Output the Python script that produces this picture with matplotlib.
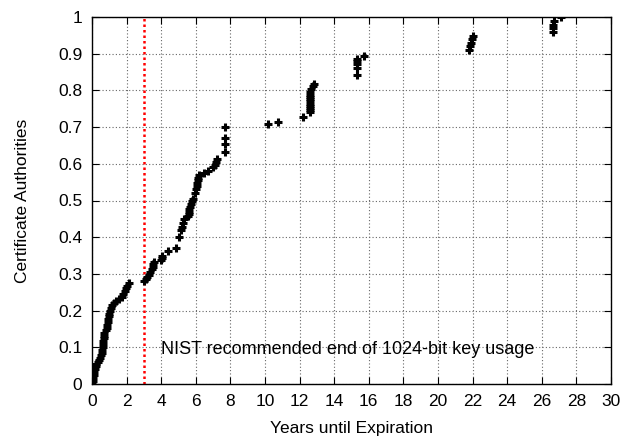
import matplotlib
matplotlib.use("Agg")
import matplotlib.pyplot as plt
import numpy as np

plt.rcParams['font.family'] = ['Liberation Sans', 'DejaVu Sans']

# Years until expiration (x) and cumulative fraction of CAs (y)
years = [
    0.00, 0.03, 0.06, 0.10, 0.14, 0.18, 0.22, 0.26, 0.32, 0.38, 0.45, 0.52, 0.56, 0.60,
    0.62, 0.64, 0.66, 0.68, 0.70, 0.72, 0.80, 0.85, 0.88, 0.90, 0.93, 0.96, 1.00, 1.03,
    1.08, 1.14, 1.25, 1.40, 1.55, 1.72, 1.80, 1.88, 1.95, 2.05, 2.15,
    3.00, 3.10, 3.20, 3.30, 3.38, 3.45, 3.50, 3.55, 3.58, 4.00, 4.03, 4.05, 4.40, 4.85,
    5.05, 5.15, 5.22, 5.28, 5.32, 5.55, 5.58, 5.60, 5.62, 5.65, 5.75, 5.80, 5.85, 5.95,
    6.00, 6.05, 6.08, 6.10, 6.12, 6.20, 6.50, 6.70, 7.00, 7.10, 7.15, 7.20,
    7.70, 7.70, 7.70, 7.70,
    10.15, 10.75, 12.20, 12.62, 12.62, 12.62, 12.62, 12.62, 12.62, 12.62, 12.62, 12.62,
    12.62, 12.68, 12.75, 12.82,
    15.30, 15.30, 15.30, 15.30, 15.30, 15.75,
    21.80, 21.85, 21.90, 21.95, 22.00,
    26.65, 26.65, 26.65, 26.70, 27.10,
]
fraction = [
    0.000, 0.008, 0.016, 0.024, 0.032, 0.040, 0.048, 0.055, 0.060, 0.066, 0.072, 0.078, 0.085, 0.092,
    0.100, 0.108, 0.116, 0.124, 0.132, 0.140, 0.146, 0.152, 0.160, 0.168, 0.176, 0.184, 0.192, 0.200,
    0.208, 0.214, 0.220, 0.226, 0.232, 0.238, 0.246, 0.254, 0.262, 0.268, 0.275,
    0.280, 0.286, 0.292, 0.298, 0.305, 0.312, 0.319, 0.326, 0.332, 0.338, 0.344, 0.350, 0.362, 0.370,
    0.400, 0.420, 0.428, 0.440, 0.450, 0.458, 0.464, 0.470, 0.476, 0.482, 0.490, 0.498, 0.505, 0.520,
    0.530, 0.540, 0.548, 0.556, 0.562, 0.570, 0.575, 0.580, 0.590, 0.598, 0.606, 0.612,
    0.632, 0.654, 0.670, 0.700,
    0.708, 0.714, 0.728, 0.740, 0.746, 0.752, 0.758, 0.764, 0.770, 0.776, 0.782, 0.788,
    0.795, 0.805, 0.812, 0.818,
    0.842, 0.861, 0.872, 0.880, 0.886, 0.894,
    0.910, 0.920, 0.930, 0.940, 0.948,
    0.960, 0.970, 0.978, 0.990, 1.000,
]

nist_year = 3
nist_label = "NIST recommended end of 1024-bit key usage"
x_ticks = list(range(0, 31, 2))
y_ticks = [0, 0.1, 0.2, 0.3, 0.4, 0.5, 0.6, 0.7, 0.8, 0.9, 1]
y_tick_labels = ["0", "0.1", "0.2", "0.3", "0.4", "0.5", "0.6", "0.7", "0.8", "0.9", "1"]

fig = plt.figure(figsize=(6.23, 4.37), dpi=100)
ax = fig.add_axes([92/623, 53/437, 519/623, 367/437])

ax.plot(years, fraction, linestyle='none', marker='+', color='black',
        markersize=6, markeredgewidth=2.2, zorder=3)
ax.axvline(nist_year, color='red', linestyle=(0, (1, 1.2)), linewidth=1.8, zorder=2)
ax.text(4.0, 0.093, nist_label, fontsize=13, va='center', ha='left', color='black')

ax.set_xlim(0, 30)
ax.set_ylim(0, 1)
ax.set_xticks(x_ticks)
ax.set_yticks(y_ticks)
ax.set_yticklabels(y_tick_labels)
ax.tick_params(direction='in', top=True, right=True, length=5, width=0.8,
               labelsize=12.5, pad=7, colors='black')
ax.grid(True, color='#666666', linestyle=(0, (1, 2)), linewidth=0.8)
for s in ax.spines.values():
    s.set_linewidth(1.0)
ax.set_xlabel("Years until Expiration", fontsize=12.5, labelpad=9)
ax.set_ylabel("Certificate Authorities", fontsize=12.5, labelpad=20)

fig.savefig("out.png", dpi=100)
